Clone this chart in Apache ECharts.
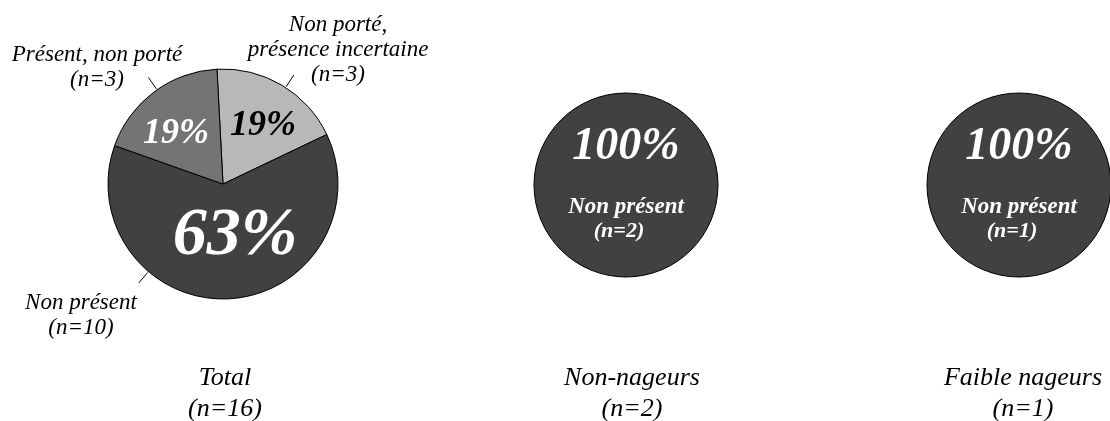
<!DOCTYPE html>
<html>
<head>
<meta charset="utf-8">
<script src="https://cdn.jsdelivr.net/npm/echarts@6/dist/echarts.min.js"></script>
<style>
  html, body { margin: 0; padding: 0; background: #fff; }
  #chart { width: 1110px; height: 421px; }
</style>
</head>
<body>
<div id="chart"></div>
<script>
  // groupes (titres du bas)
  const groupNames = ['Total', 'Non-nageurs', 'Faible nageurs']
  const groupN = [16, 2, 1]
  // Total
  const totalCategories = ['Non porté,\nprésence incertaine', 'Non présent', 'Présent, non porté']
  const totalCounts = [3, 10, 3]
  // Non-nageurs
  const nonNageursCategories = ['Non présent']
  const nonNageursCounts = [2]
  // Faible nageurs
  const faibleCategories = ['Non présent']
  const faibleCounts = [1]

  const FONT = "'Liberation Serif', 'Times New Roman', serif"
  const sliceColors = ['#b8b8b8', '#414141', '#747474']
  const pctColors = ['#000', '#fff', '#fff']
  const pctSizes = [36, 68, 36]
  // position des pourcentages (angle en degrés, distance au centre)
  const pctAngles = [55.4, -77, 133.2]
  const pctDist = [70.5, 53.4, 68.6]
  const c1 = [223, 184], r1 = 115
  const tickAngles = [57, 229.6, 125]
  const outerLabelPos = [[338, 50], [81, 315], [97, 67]]
  const titleX = [220, 627, 1018]

  const pct = (p) => Math.round(p.percent) + '%'

  const totalData = totalCategories.map((name, i) => ({
    name: name,
    value: totalCounts[i],
    itemStyle: { color: sliceColors[i] },
    label: { color: pctColors[i], fontSize: pctSizes[i] }
  }))

  const fullPie = (cats, counts, center) => ({
    type: 'pie',
    center: center,
    radius: 92,
    silent: true,
    startAngle: 90,
    itemStyle: { color: '#414141', borderColor: '#000', borderWidth: 1 },
    label: {
      show: true,
      position: 'center',
      padding: [0, 0, 28, 0],
      formatter: (p) => '{p|' + pct(p) + '}\n{s|' + p.name + '}\n{n|(n=' + p.value + ')}',
      rich: {
        p: { fontFamily: FONT, fontStyle: 'italic', fontWeight: 'bold', fontSize: 46, color: '#fff', lineHeight: 96 },
        s: { fontFamily: FONT, fontStyle: 'italic', fontWeight: 'bold', fontSize: 23, color: '#fff', lineHeight: 24 },
        n: { fontFamily: FONT, fontStyle: 'italic', fontWeight: 'bold', fontSize: 22, color: '#fff', lineHeight: 24, padding: [0, 14, 0, 0] }
      }
    },
    labelLine: { show: false },
    data: cats.map((name, i) => ({ name: name, value: counts[i] }))
  })

  const chart = echarts.init(document.getElementById('chart'))
  chart.setOption({
    animation: false,
    backgroundColor: '#fff',
    title: groupNames.map((g, i) => ({
      text: g + '\n(n=' + groupN[i] + ')',
      left: titleX[i],
      top: 358,
      textAlign: 'center',
      textStyle: { fontFamily: FONT, fontStyle: 'italic', fontWeight: 'normal', fontSize: 26, color: '#000', lineHeight: 31 }
    })),
    series: [
      // Total : secteurs + pourcentages
      {
        type: 'pie',
        center: c1,
        radius: r1,
        startAngle: 93,
        silent: true,
        avoidLabelOverlap: false,
        itemStyle: { borderColor: '#000', borderWidth: 1 },
        label: {
          show: true,
          position: 'inside',
          fontFamily: FONT,
          fontStyle: 'italic',
          fontWeight: 'bold',
          formatter: pct
        },
        labelLine: { show: false },
        labelLayout: function (p) {
          const i = p.dataIndex
          const a = pctAngles[i] * Math.PI / 180
          return {
            x: c1[0] + pctDist[i] * Math.cos(a),
            y: c1[1] - pctDist[i] * Math.sin(a),
            align: 'center',
            verticalAlign: 'middle'
          }
        },
        data: totalData
      },
      // Total : étiquettes extérieures
      {
        type: 'pie',
        center: c1,
        radius: r1,
        startAngle: 93,
        silent: true,
        avoidLabelOverlap: false,
        itemStyle: { color: 'rgba(0,0,0,0)', borderWidth: 0 },
        label: {
          show: true,
          position: 'outside',
          fontFamily: FONT,
          fontStyle: 'italic',
          fontSize: 23,
          lineHeight: 25,
          color: '#000',
          formatter: (p) => p.name + '\n(n=' + p.value + ')'
        },
        labelLine: { show: true, length: 15, length2: 0, lineStyle: { color: '#000', width: 1 } },
        labelLayout: function (p) {
          const i = p.dataIndex
          const a = tickAngles[i] * Math.PI / 180
          const pt = (r) => [c1[0] + r * Math.cos(a), c1[1] - r * Math.sin(a)]
          return {
            x: outerLabelPos[i][0],
            y: outerLabelPos[i][1],
            align: 'center',
            verticalAlign: 'middle',
            labelLinePoints: [pt(r1 + 1), pt(r1 + 15), pt(r1 + 15)]
          }
        },
        data: totalCategories.map((name, i) => ({ name: name, value: totalCounts[i] }))
      },
      fullPie(nonNageursCategories, nonNageursCounts, [626, 185]),
      fullPie(faibleCategories, faibleCounts, [1019, 185])
    ]
  })
</script>
</body>
</html>
